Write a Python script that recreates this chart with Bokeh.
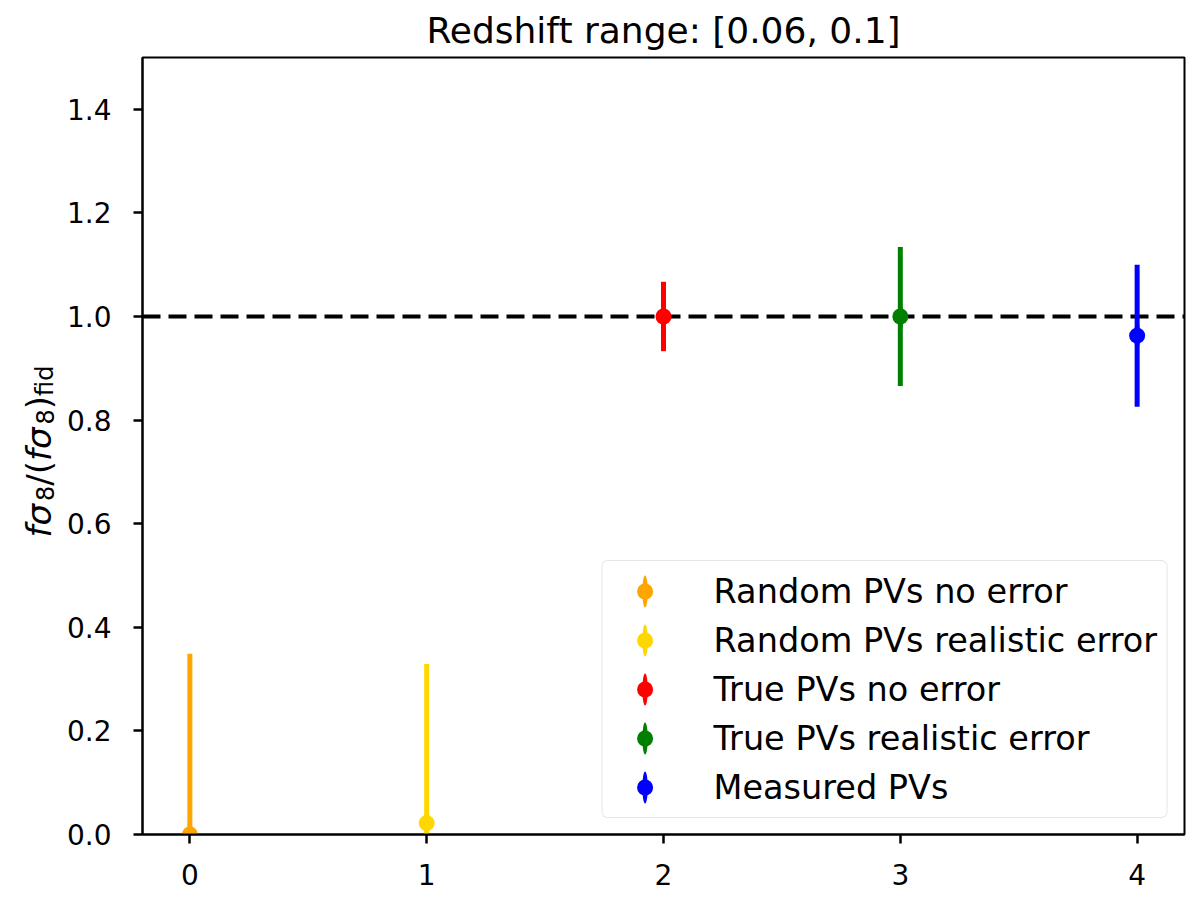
from bokeh.plotting import figure
from bokeh.layouts import row
from bokeh.models import (ColumnDataSource, Range1d, Span, Legend, LegendItem,
                          Label, FixedTicker, CustomJSTickFormatter)
from bokeh.embed import file_html
from bokeh.resources import INLINE

# ---------------- data ----------------
labels = ["Random PVs no error", "Random PVs realistic error",
          "True PVs no error", "True PVs realistic error", "Measured PVs"]
x_pos = [0, 1, 2, 3, 4]
y_val = [0.0, 0.022, 1.0, 1.0, 0.963]
y_err = [0.349, 0.307, 0.067, 0.134, 0.137]
colors = ["#FFA500", "#FFD700", "#FF0000", "#008000", "#0000FF"]
fiducial = 1.0
x_ticks = [0, 1, 2, 3, 4]
y_ticks = [0.0, 0.2, 0.4, 0.6, 0.8, 1.0, 1.2, 1.4]
title_text = "Redshift range: [0.06, 0.1]"

FONT = "DejaVu Sans"
LEFT_W = 62

p = figure(width=1200 - LEFT_W, height=910, output_backend="svg",
           toolbar_location=None,
           x_range=Range1d(-0.2, 4.2), y_range=Range1d(0, 1.5),
           min_border_left=142 - LEFT_W, min_border_right=16, min_border_top=57,
           min_border_bottom=76)
p.grid.visible = False
p.outline_line_color = "black"
p.outline_line_width = 2
p.background_fill_color = "white"
p.border_fill_color = "white"

p.title.text = title_text
p.title.text_font = FONT
p.title.text_font_size = "36px"
p.title.text_font_style = "normal"
p.title.align = "center"
p.title.text_color = "black"
p.title.standoff = 13

for ax in (p.xaxis[0], p.yaxis[0]):
    ax.axis_line_width = 2
    ax.axis_line_color = "black"
    ax.major_tick_line_width = 2.5
    ax.major_tick_line_color = "black"
    ax.major_tick_out = 9
    ax.major_tick_in = 0
    ax.minor_tick_line_color = None
    ax.major_label_text_font = FONT
    ax.major_label_text_font_size = "28px"
    ax.major_label_text_color = "black"
p.xaxis[0].ticker = FixedTicker(ticks=x_ticks)
p.yaxis[0].ticker = FixedTicker(ticks=y_ticks)
p.yaxis[0].formatter = CustomJSTickFormatter(code="return tick.toFixed(1)")
p.xaxis[0].major_label_standoff = 20
p.yaxis[0].major_label_standoff = 22

# fiducial line (under the data)
p.add_layout(Span(location=fiducial, dimension="width", line_color="black",
                  line_width=4, line_dash="18 8", level="underlay"))

items = []
for i in range(len(labels)):
    src = ColumnDataSource(dict(x=[x_pos[i]], y=[y_val[i]],
                                lo=[y_val[i] - y_err[i]], hi=[y_val[i] + y_err[i]]))
    p.segment(x0="x", y0="lo", x1="x", y1="hi", source=src,
              line_color=colors[i], line_width=5)
    # thin upright ellipse lying inside the error bar; gives a vertical stroke in the legend
    el = p.ellipse(x="x", y="y", width=5.5, height=32, width_units="screen",
                   height_units="screen", source=src, fill_color=colors[i],
                   line_color=None)
    sc = p.scatter(x="x", y="y", source=src, size=16, marker="circle",
                   fill_color=colors[i], line_color=colors[i], line_width=0)
    items.append(LegendItem(label=labels[i], renderers=[el, sc]))

legend = Legend(items=items, location="bottom_right", margin=16, padding=10,
                spacing=9, glyph_height=40, glyph_width=64, label_height=38,
                label_standoff=37,
                label_text_font=FONT, label_text_font_size="33.5px",
                label_text_color="black",
                border_line_color="#cccccc", border_line_width=1.5,
                background_fill_alpha=0.8)
try:
    legend.border_radius = 6
except Exception:
    pass
p.add_layout(legend, "center")

# ---------------- y-axis label (separate narrow panel) ----------------
lab = figure(width=LEFT_W, height=910, output_backend="svg", toolbar_location=None,
             x_axis_type=None, y_axis_type=None, min_border=0,
             x_range=Range1d(0, 1), y_range=Range1d(0, 1))
lab.outline_line_color = None
lab.grid.visible = False
lab.background_fill_color = "white"
lab.border_fill_color = "white"

MAIN, SUB = 34, 24
# advance widths (em) of DejaVu Sans glyphs used
adv = {"f": 0.352, "σ": 0.634, "8": 0.636, "/": 0.337, "(": 0.39, ")": 0.39,
       "i": 0.278, "d": 0.635}
pieces = [  # text, size, italic, subscript
    ("fσ", MAIN, True, False),
    ("8", SUB, False, True),
    ("/(", MAIN, False, False),
    ("fσ", MAIN, True, False),
    ("8", SUB, False, True),
    (")", MAIN, False, False),
    ("fid", SUB, False, True),
]
base_x = 38
start_y = 834 - 537   # measured from the bottom of the (row-aligned) frame
off = 0.0
for txt, sz, it, sub in pieces:
    lab.add_layout(Label(x=base_x + (6 if sub else 0), y=start_y + off,
                         x_units="screen", y_units="screen", text=txt,
                         angle=1.5707963267948966, text_align="left",
                         text_baseline="alphabetic", text_font=FONT,
                         text_font_size=f"{sz}px",
                         text_font_style="italic" if it else "normal",
                         text_color="black"))
    off += sum(adv[c] for c in txt) * sz + (3 if it else 0)

layout = row(lab, p, spacing=0)
open("out.html", "w").write(file_html(layout, INLINE))
